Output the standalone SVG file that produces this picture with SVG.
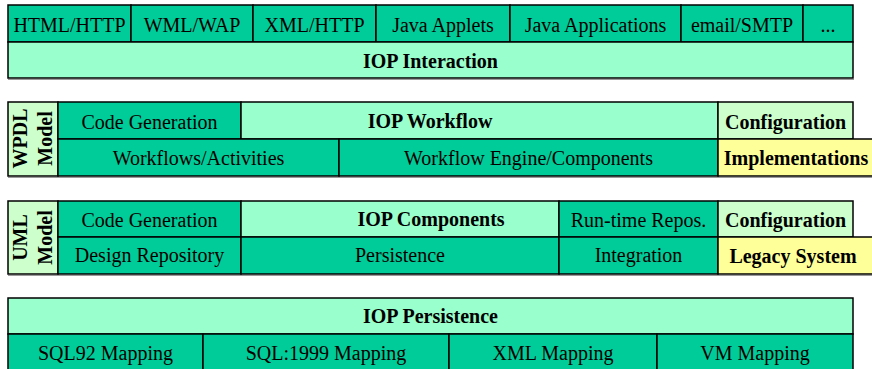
<svg xmlns="http://www.w3.org/2000/svg" width="872" height="369" viewBox="0 0 872 369" font-family="'Liberation Serif', 'Times New Roman', Times, serif">
  <style>
    rect { stroke: #000; stroke-width: 1.5; }
    .dk { fill: #00CC99; }
    .lt { fill: #99FFCC; }
    .pl { fill: #CCFFCC; }
    .yl { fill: #FFFF99; }
    .sh { stroke: #9a9a9a; stroke-width: 1; fill: none; }
    text { font-family: 'Liberation Serif', 'Times New Roman', Times, serif; font-size: 20px; fill: #000; text-anchor: middle; }
    .b { font-weight: bold; }
  </style>

  <!-- Interaction layer -->
  <g id="interaction">
    <rect class="dk" x="8" y="5" width="123" height="37"/>
    <rect class="dk" x="131" y="5" width="122" height="37"/>
    <rect class="dk" x="253" y="5" width="123" height="37"/>
    <rect class="dk" x="376" y="5" width="134" height="37"/>
    <rect class="dk" x="510" y="5" width="171" height="37"/>
    <rect class="dk" x="681" y="5" width="122" height="37"/>
    <rect class="dk" x="803" y="5" width="50" height="37"/>
    <rect class="lt" x="8" y="42" width="845" height="36"/>
    <path class="sh" d="M8 79.5H854"/>
    <text x="69.5" y="31.5">HTML/HTTP</text>
    <text x="192" y="31.5">WML/WAP</text>
    <text x="314.5" y="31.5">XML/HTTP</text>
    <text x="443" y="31.5">Java Applets</text>
    <text x="595.5" y="31.5">Java Applications</text>
    <text x="742" y="31.5">email/SMTP</text>
    <text x="828" y="31.5">...</text>
    <text class="b" x="430.5" y="68">IOP Interaction</text>
  </g>

  <!-- Workflow layer -->
  <g id="workflow">
    <rect class="pl" x="8" y="102" width="50" height="74"/>
    <text class="b" transform="translate(20 138.5) rotate(-90)" y="7">WPDL</text>
    <text class="b" transform="translate(45 138.5) rotate(-90)" y="7">Model</text>
    <rect class="dk" x="58" y="102" width="183" height="37"/>
    <rect class="lt" x="241" y="102" width="477" height="37"/>
    <rect class="pl" x="718" y="102" width="135" height="37"/>
    <rect class="dk" x="58" y="139" width="281" height="37"/>
    <rect class="dk" x="339" y="139" width="379" height="37"/>
    <rect class="yl" x="718" y="139" width="160" height="37"/>
    <path class="sh" d="M8 177.5H872"/>
    <text x="149.5" y="128.5">Code Generation</text>
    <text class="b" x="430" y="128">IOP Workflow</text>
    <text class="b" x="785.5" y="128.5">Configuration</text>
    <text x="198.5" y="165">Workflows/Activities</text>
    <text x="528.5" y="165">Workflow Engine/Components</text>
    <text class="b" x="796" y="165">Implementations</text>
  </g>

  <!-- Component layer -->
  <g id="components">
    <rect class="pl" x="8" y="201" width="50" height="73"/>
    <text class="b" transform="translate(20 237.5) rotate(-90)" y="7">UML</text>
    <text class="b" transform="translate(45 237.5) rotate(-90)" y="7">Model</text>
    <rect class="dk" x="58" y="201" width="183" height="36"/>
    <rect class="lt" x="241" y="201" width="318" height="36"/>
    <rect class="dk" x="559" y="201" width="159" height="36"/>
    <rect class="pl" x="718" y="201" width="135" height="36"/>
    <rect class="dk" x="58" y="237" width="183" height="37"/>
    <rect class="dk" x="241" y="237" width="318" height="37"/>
    <rect class="dk" x="559" y="237" width="159" height="37"/>
    <rect class="yl" x="718" y="237" width="160" height="37"/>
    <path class="sh" d="M8 275.5H872"/>
    <text x="149.5" y="226.5">Code Generation</text>
    <text class="b" x="431" y="225.5">IOP Components</text>
    <text x="638.5" y="226.5">Run-time Repos.</text>
    <text class="b" x="785.5" y="226.5">Configuration</text>
    <text x="149.5" y="262">Design Repository</text>
    <text x="400" y="262">Persistence</text>
    <text x="638.5" y="262">Integration</text>
    <text class="b" x="793" y="262.5">Legacy System</text>
  </g>

  <!-- Persistence layer -->
  <g id="persistence">
    <rect class="lt" x="8" y="298" width="845" height="36"/>
    <rect class="dk" x="8" y="334" width="195" height="40"/>
    <rect class="dk" x="203" y="334" width="246" height="40"/>
    <rect class="dk" x="449" y="334" width="208" height="40"/>
    <rect class="dk" x="657" y="334" width="196" height="40"/>
    <text class="b" x="430.5" y="322.5">IOP Persistence</text>
    <text x="105.5" y="360">SQL92 Mapping</text>
    <text x="326" y="360">SQL:1999 Mapping</text>
    <text x="553" y="360">XML Mapping</text>
    <text x="755" y="360">VM Mapping</text>
  </g>

  <g id="connectors"/>
</svg>
